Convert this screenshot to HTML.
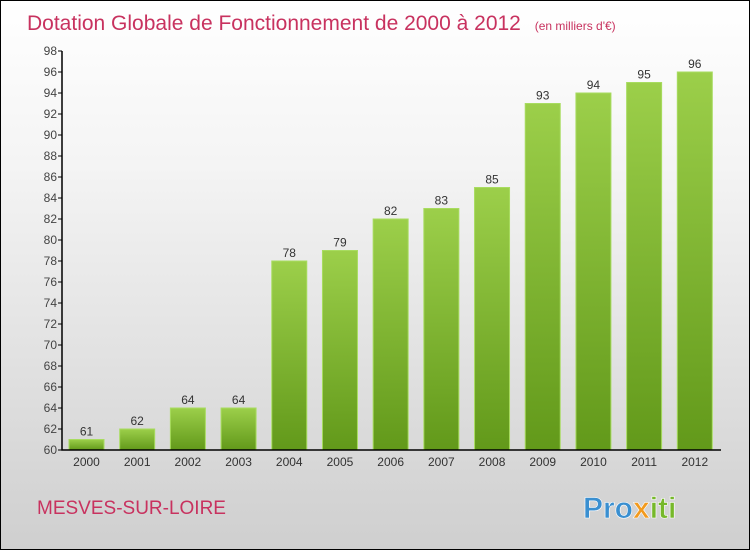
<!DOCTYPE html>
<html><head><meta charset="utf-8"><style>
body{margin:0}
#c{position:relative;width:748px;height:548px;border:1px solid #000;background:linear-gradient(#fff,#f4f4f4 30%,#cfcfcf);font-family:"Liberation Sans",sans-serif;overflow:hidden}
</style></head><body>
<div id="c">
<svg width="748" height="548" id="s">
<defs><linearGradient id="g" x1="0" y1="0" x2="0" y2="1"><stop offset="0" stop-color="#9ccf4a"/><stop offset="1" stop-color="#62991a"/></linearGradient></defs>
<text x="26" y="29" font-size="21" fill="#c8325f">Dotation Globale de Fonctionnement de 2000 à 2012 <tspan font-size="12" dx="8">(en milliers d'€)</tspan></text>
<text x="36" y="513" font-size="19" fill="#c8325f">MESVES-SUR-LOIRE</text>
<text x="582" y="517" font-size="30" font-weight="bold" fill="#3a8fd0" stroke="#fff" stroke-width="0.6">Pro<tspan fill="#f29a1e">x</tspan><tspan fill="#76b82a">iti</tspan></text>
<g id="p"></g>
</svg></div>
<script>
const years=["2000","2001","2002","2003","2004","2005","2006","2007","2008","2009","2010","2011","2012"];
const values=[61,62,64,64,78,79,82,83,85,93,94,95,96];
const yTicks=[60,62,64,66,68,70,72,74,76,78,80,82,84,86,88,90,92,94,96,98];
const ns="http://www.w3.org/2000/svg",p=document.getElementById('p');
const X0=61,X1=720,Y0=449,Y1=50,ymin=60,ymax=98;
const y=v=>Y0-(v-ymin)/(ymax-ymin)*(Y0-Y1);
const bw=(X1-X0)/years.length;
function mk(t,a,txt){const e=document.createElementNS(ns,t);for(const k in a)e.setAttribute(k,a[k]);if(txt!=null)e.textContent=txt;p.appendChild(e);return e;}
yTicks.forEach(v=>{
const l=mk('line',{x1:X0-4,x2:X0,y1:y(v),y2:y(v),stroke:'#000'});


const t=mk('text',{x:X0-5,y:y(v)+4,'font-size':12,fill:'#444','text-anchor':'end'},v);


});
years.forEach((yr,i)=>{
const x=X0+i*bw+7,w=35;
const r=mk('rect',{x:x,y:y(values[i]),width:w,height:Y0-y(values[i]),fill:'url(#g)',stroke:'#a8dc60','stroke-width':1});


const v=mk('text',{x:x+w/2,y:y(values[i])-4,'font-size':12,fill:'#333','text-anchor':'middle'},values[i]);


const t=mk('text',{x:x+w/2,y:Y0+16,'font-size':12,fill:'#333','text-anchor':'middle'},yr);


});
const ax=mk('path',{d:`M${X0} ${Y1}V${Y0}H${X1}`,stroke:'#000',fill:'none','stroke-width':1.5});


</script></body></html>
